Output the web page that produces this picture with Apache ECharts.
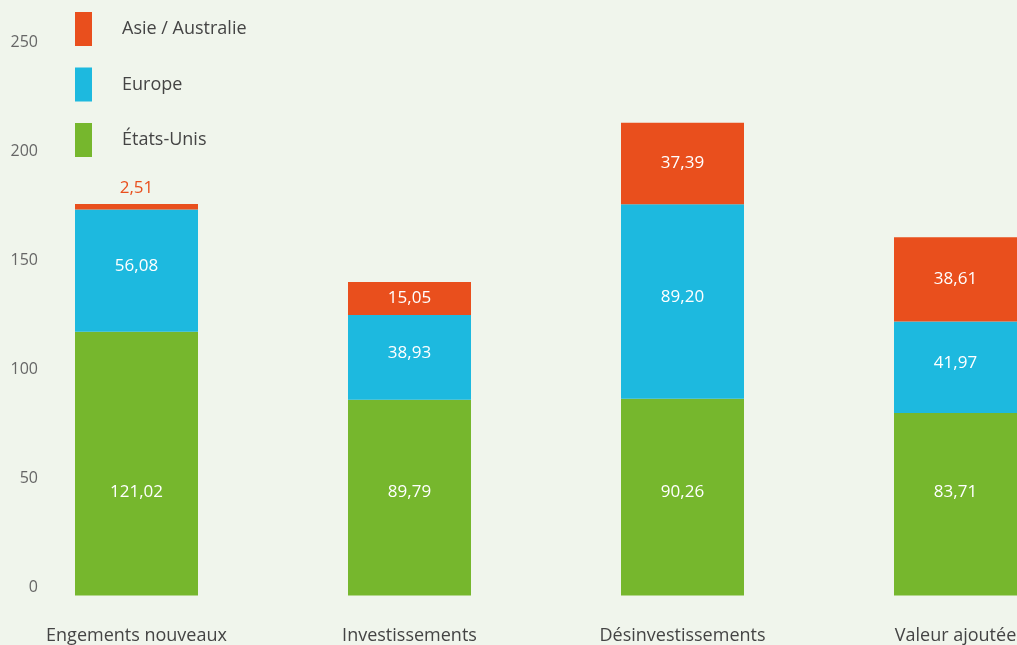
<!DOCTYPE html>
<html><head><meta charset="utf-8">
<script src="https://cdn.jsdelivr.net/npm/echarts@6/dist/echarts.min.js"></script>
<style>html,body{margin:0;padding:0;background:#f0f5ec}#c{width:1017px;height:645px}</style>
</head><body><div id="c"></div>
<script>
const categories = ['Engements nouveaux', 'Investissements', 'Désinvestissements', 'Valeur ajoutée'];
const usa = [121.02, 89.79, 90.26, 83.71];
const europe = [56.08, 38.93, 89.20, 41.97];
const asia = [2.51, 15.05, 37.39, 38.61];
const yTicks = [0, 50, 100, 150, 200, 250];

const RED = '#e94f1d', BLUE = '#1db9df', GREEN = '#76b72d';
const FONT = '"Open Sans", "Noto Sans", sans-serif';
const fmt = v => v.toFixed(2).replace('.', ',');

const chart = echarts.init(document.getElementById('c'));
chart.setOption({
  backgroundColor: '#f0f5ec',
  animation: false,
  textStyle: { fontFamily: FONT },
  grid: { left: 0, width: 1092, top: 50.5, bottom: 49.5, containLabel: false, outerBoundsMode: 'none' },
  legend: {
    orient: 'vertical', left: 75, top: 12, padding: 0,
    itemWidth: 17, itemHeight: 34, itemGap: 21.5,
    icon: 'rect',
    data: ['Asie / Australie', 'Europe', 'États-Unis'],
    textStyle: { fontSize: 18, color: '#444', fontFamily: FONT, padding: [0, 0, 0, 25] }
  },
  xAxis: {
    type: 'category', data: categories,
    axisLine: { show: false }, axisTick: { show: false },
    axisLabel: { fontSize: 18, color: '#444', margin: 31.5, fontFamily: FONT, hideOverlap: false }
  },
  yAxis: {
    type: 'value', min: yTicks[0], max: yTicks[yTicks.length - 1], interval: 50,
    offset: -46,
    splitLine: { show: false }, axisLine: { show: false }, axisTick: { show: false },
    axisLabel: { fontSize: 16, color: '#666', margin: 8, verticalAlign: 'bottom', lineHeight: 16, fontFamily: FONT }
  },
  series: [
    {
      name: 'États-Unis', type: 'bar', stack: 't', barWidth: 123,
      itemStyle: { color: GREEN },
      label: { show: true, position: 'insideBottom', distance: 95, color: '#fff', fontSize: 17, fontFamily: FONT, formatter: p => fmt(p.value) },
      data: usa
    },
    {
      name: 'Europe', type: 'bar', stack: 't', barWidth: 123,
      itemStyle: { color: BLUE },
      label: { show: true, position: 'inside', offset: [0, -4], color: '#fff', fontSize: 17, fontFamily: FONT, formatter: p => fmt(p.value) },
      data: europe
    },
    {
      name: 'Asie / Australie', type: 'bar', stack: 't', barWidth: 123,
      itemStyle: { color: RED },
      label: { show: true, position: 'inside', color: '#fff', fontSize: 17, fontFamily: FONT, formatter: p => fmt(p.value) },
      data: asia.map((v, i) => i === 0 ? { value: v, label: { position: 'top', color: RED, distance: 7 } } : v)
    }
  ]
});
</script></body></html>
